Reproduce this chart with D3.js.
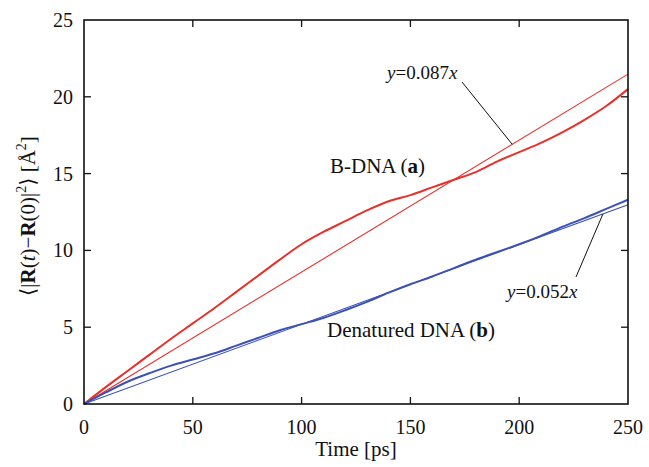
<!DOCTYPE html>
<html lang="en">
<head>
  <meta charset="UTF-8">
  <title>Mean square displacement</title>
  <script src="https://d3js.org/d3.v7.min.js"></script>
  <style>
    body { margin: 0; background: #fff; }
    text { font-family: "Liberation Serif", "DejaVu Serif", serif; fill: #111; }
    .tick-label { font-size: 20px; }
    .axis-title { font-size: 21px; }
    .note { font-size: 19px; }
    .curve-note { font-size: 21px; }
  </style>
</head>
<body>
  <div id="chart"></div>
  <script>
    // data
    const times = [0, 10, 20, 30, 40, 50, 60, 70, 80, 90, 100, 110, 120, 130, 140, 150,
                   160, 170, 180, 190, 200, 210, 220, 230, 240, 250];
    const bDNA = [0, 1.1, 2.15, 3.2, 4.25, 5.25, 6.25, 7.3, 8.35, 9.4, 10.4, 11.2, 11.9, 12.6, 13.2, 13.6,
                  14.1, 14.6, 15.1, 15.8, 16.4, 17.0, 17.7, 18.5, 19.4, 20.5];
    const denatured = [0, 0.75, 1.45, 2.0, 2.5, 2.9, 3.3, 3.8, 4.3, 4.8, 5.2, 5.6, 6.1, 6.65, 7.25, 7.8,
                       8.3, 8.85, 9.4, 9.9, 10.4, 10.95, 11.55, 12.1, 12.7, 13.3];
    const fitSlopes = [0.0859, 0.0519];   // as drawn
    const fitLabels = ["0.087", "0.052"];
    const xTicks = [0, 50, 100, 150, 200, 250];
    const yTicks = [0, 5, 10, 15, 20, 25];

    const width = 649, height = 467;
    const mLeft = 84, mRight = 628, mTop = 20, mBottom = 404;

    const svg = d3.select("#chart").append("svg")
      .attr("width", width)
      .attr("height", height);

    const x = d3.scaleLinear().domain([0, 250]).range([mLeft, mRight]);
    const y = d3.scaleLinear().domain([0, 25]).range([mBottom, mTop]);

    const red = "#e8302a", blue = "#3b52b4";

    // fitted straight lines
    const fitColors = [red, blue];
    fitSlopes.forEach((k, i) => {
      svg.append("line")
        .attr("x1", x(0)).attr("y1", y(0))
        .attr("x2", x(250)).attr("y2", y(k * 250))
        .attr("stroke", fitColors[i])
        .attr("stroke-width", 1.1);
    });

    // data curves
    const line = d3.line()
      .x((d, i) => x(times[i]))
      .y(d => y(d))
      .curve(d3.curveCatmullRom.alpha(0.5));

    svg.append("path").datum(bDNA)
      .attr("d", line).attr("fill", "none")
      .attr("stroke", red).attr("stroke-width", 2);

    svg.append("path").datum(denatured)
      .attr("d", line).attr("fill", "none")
      .attr("stroke", blue).attr("stroke-width", 2);

    // frame
    svg.append("rect")
      .attr("x", mLeft).attr("y", mTop)
      .attr("width", mRight - mLeft).attr("height", mBottom - mTop)
      .attr("fill", "none").attr("stroke", "#111").attr("stroke-width", 1.6);

    // inward ticks on all four sides
    const tl = 7;
    xTicks.slice(1, -1).forEach(t => {
      svg.append("line").attr("x1", x(t)).attr("x2", x(t))
        .attr("y1", mBottom).attr("y2", mBottom - tl)
        .attr("stroke", "#111").attr("stroke-width", 1.3);
      svg.append("line").attr("x1", x(t)).attr("x2", x(t))
        .attr("y1", mTop).attr("y2", mTop + tl)
        .attr("stroke", "#111").attr("stroke-width", 1.3);
    });
    yTicks.slice(1, -1).forEach(t => {
      svg.append("line").attr("y1", y(t)).attr("y2", y(t))
        .attr("x1", mLeft).attr("x2", mLeft + tl)
        .attr("stroke", "#111").attr("stroke-width", 1.3);
      svg.append("line").attr("y1", y(t)).attr("y2", y(t))
        .attr("x1", mRight).attr("x2", mRight - tl)
        .attr("stroke", "#111").attr("stroke-width", 1.3);
    });

    // tick labels
    svg.selectAll(".xl").data(xTicks).enter().append("text")
      .attr("class", "tick-label")
      .attr("x", d => x(d)).attr("y", mBottom + 30)
      .attr("text-anchor", "middle")
      .text(d => d);

    svg.selectAll(".yl").data(yTicks).enter().append("text")
      .attr("class", "tick-label")
      .attr("x", mLeft - 11).attr("y", d => y(d) + 7)
      .attr("text-anchor", "end")
      .text(d => d);

    // axis titles
    svg.append("text").attr("class", "axis-title")
      .attr("x", 356).attr("y", 456)
      .attr("text-anchor", "middle")
      .text("Time [ps]");

    const yt = svg.append("text").attr("class", "axis-title")
      .attr("transform", "translate(35,216) rotate(-90)")
      .attr("text-anchor", "middle");
    yt.append("tspan").text("\u27E8|");
    yt.append("tspan").attr("font-weight", "bold").text("R");
    yt.append("tspan").text("(");
    yt.append("tspan").attr("font-style", "italic").text("t");
    yt.append("tspan").text(")\u2212");
    yt.append("tspan").attr("font-weight", "bold").text("R");
    yt.append("tspan").text("(0)|");
    yt.append("tspan").attr("font-size", "14px").attr("dy", -9).text("2");
    yt.append("tspan").attr("dy", 9).text("\u27E9 [\u00C5");
    yt.append("tspan").attr("font-size", "14px").attr("dy", -9).text("2");
    yt.append("tspan").attr("dy", 9).text("]");

    // curve labels
    const bl = svg.append("text").attr("class", "curve-note").attr("x", 330).attr("y", 173);
    bl.append("tspan").text("B-DNA (");
    bl.append("tspan").attr("font-weight", "bold").text("a");
    bl.append("tspan").text(")");

    const dl = svg.append("text").attr("class", "curve-note").attr("x", 327).attr("y", 337);
    dl.append("tspan").text("Denatured DNA (");
    dl.append("tspan").attr("font-weight", "bold").text("b");
    dl.append("tspan").text(")");

    // fit annotations with leader lines
    const notes = [
      { tx: 387, ty: 79, lx1: 462, ly1: 82, t: 196.8 },
      { tx: 507, ty: 298, lx1: 576, ly1: 277, t: 238.5 }
    ];
    notes.forEach((n, i) => {
      const tt = svg.append("text").attr("class", "note").attr("x", n.tx).attr("y", n.ty);
      tt.append("tspan").attr("font-style", "italic").text("y");
      tt.append("tspan").text("=" + fitLabels[i]);
      tt.append("tspan").attr("font-style", "italic").text("x");
      svg.append("line")
        .attr("x1", n.lx1).attr("y1", n.ly1)
        .attr("x2", x(n.t)).attr("y2", y(fitSlopes[i] * n.t))
        .attr("stroke", "#111").attr("stroke-width", 1);
    });
  </script>
</body>
</html>
